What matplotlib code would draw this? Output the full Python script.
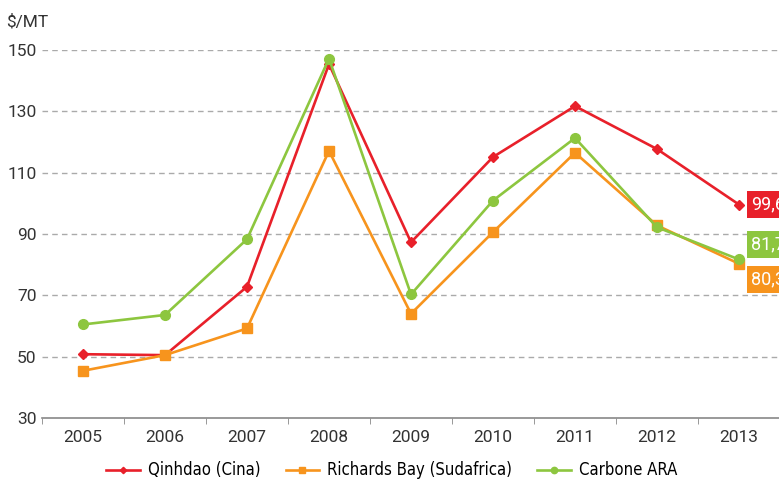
import matplotlib
matplotlib.use("Agg")
import matplotlib.pyplot as plt
from matplotlib.font_manager import FontProperties

years = ["2005", "2006", "2007", "2008", "2009", "2010", "2011", "2012", "2013"]
qinhdao = [50.8, 50.5, 72.8, 145.4, 87.3, 115.1, 131.7, 117.7, 99.6]
richards = [45.4, 50.5, 59.2, 117.1, 64.0, 90.6, 116.5, 92.8, 80.3]
ara = [60.5, 63.6, 88.3, 147.2, 70.3, 100.9, 121.3, 92.2, 81.7]
series_names = ["Qinhdao (Cina)", "Richards Bay (Sudafrica)", "Carbone ARA"]
yticks = [30, 50, 70, 90, 110, 130, 150]

RED = "#E8202A"
ORANGE = "#F7941D"
GREEN = "#8DC63F"
TXT = "#333333"

plt.rcParams['font.family'] = ['Roboto', 'DejaVu Sans']

fig = plt.figure(figsize=(7.79, 4.92), dpi=100)
ax = fig.add_axes([42/779, 74/492, 738/779, 368/492])
x = list(range(len(years)))

l1, = ax.plot(x, qinhdao, color=RED, lw=1.9, marker='D', ms=5, zorder=3)
l2, = ax.plot(x, richards, color=ORANGE, lw=1.9, marker='s', ms=7, zorder=4)
l3, = ax.plot(x, ara, color=GREEN, lw=1.9, marker='o', ms=7, zorder=5)

ax.set_xlim(-0.5, len(years) - 0.5)
ax.set_ylim(30, 150)
ax.set_yticks(yticks)
ax.set_yticklabels([str(v) for v in yticks], fontsize=12.5, color=TXT)
for v in yticks[1:]:
    ax.axhline(v, color="#aaaaaa", lw=1, ls=(0, (4, 3)), zorder=1)

ax.set_xticks(x)
ax.set_xticklabels(years, fontsize=12.5, color=TXT)
ax.set_xticks([i - 0.5 for i in range(len(years) + 1)], minor=True)
ax.tick_params(axis='x', which='major', length=0, pad=9)
ax.tick_params(axis='x', which='minor', length=4, color="#888888", direction='out')
ax.tick_params(axis='y', length=0, pad=4)

for s in ['top', 'right', 'left']:
    ax.spines[s].set_visible(False)
ax.spines['bottom'].set_color("#888888")
ax.spines['bottom'].set_linewidth(1.2)

fig.text(6/779, 1 - 22/492, "$/MT", fontsize=12.5, color=TXT, va='center', ha='left')

# end labels
last = len(years) - 1
labels = [(qinhdao[-1], RED, 0), (ara[-1], GREEN, 11), (richards[-1], ORANGE, -11)]
for val, col, dy in labels:
    ax.annotate(f"{val:.1f}".replace('.', ','), xy=(last, val), xytext=(9, dy),
                textcoords='offset points', ha='left', va='center',
                fontsize=13, color='white', annotation_clip=False,
                bbox=dict(boxstyle='square,pad=0.25', fc=col, ec='none'))

legprop = FontProperties(family=['DejaVu Sans'], stretch='condensed', size=12)
fig.legend([l1, l2, l3], series_names, loc='lower center', bbox_to_anchor=(0.503, -0.005),
           ncol=3, frameon=False, handlelength=2.0, columnspacing=1.5,
           handletextpad=0.5, markerscale=0.65, prop=legprop)

fig.savefig("out.png", dpi=100)
